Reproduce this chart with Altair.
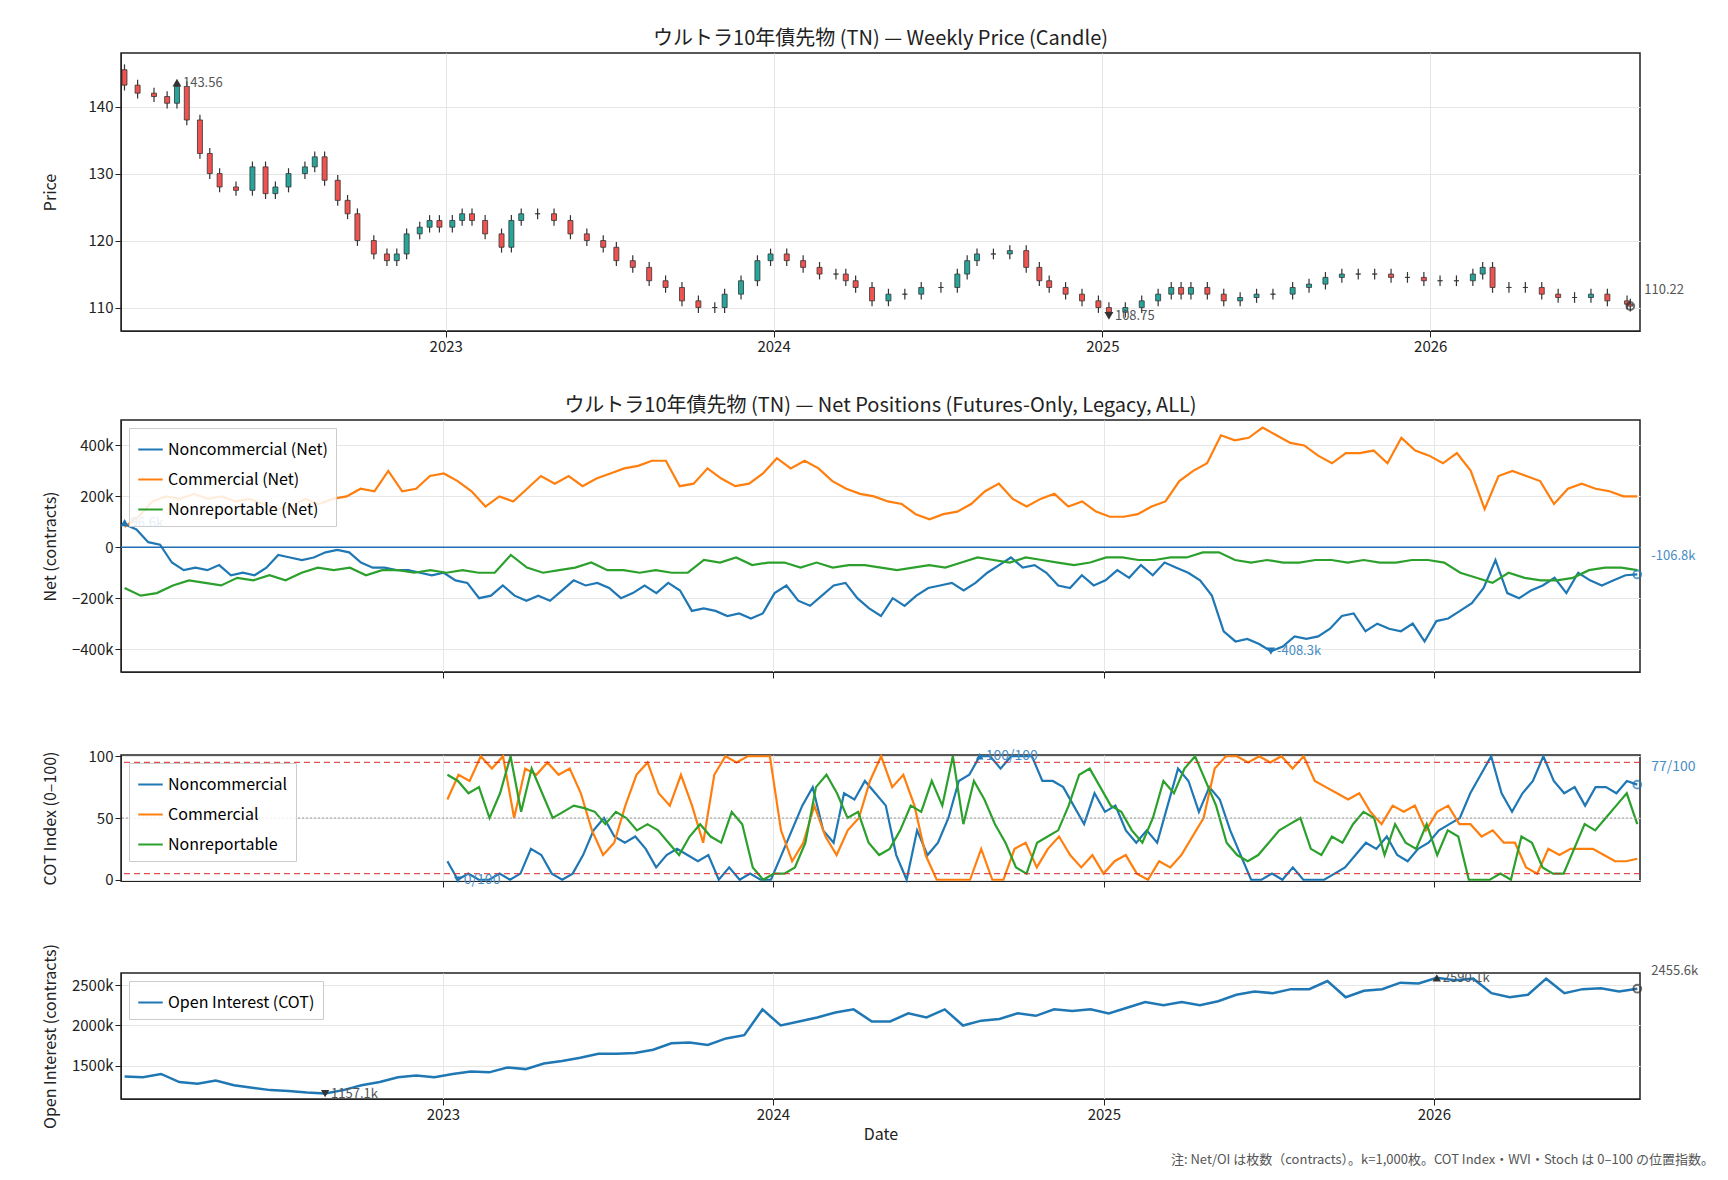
import pandas as pd
import numpy as np
import altair as alt

FONT = "Noto Sans CJK JP"

# price samples: time (decimal year) and close
price_t = [2022.02, 2022.06, 2022.11, 2022.15, 2022.18, 2022.21, 2022.25, 2022.28, 2022.31, 2022.36, 2022.41, 2022.45,
           2022.48, 2022.52, 2022.57, 2022.60, 2022.63, 2022.67, 2022.70, 2022.73, 2022.78, 2022.82, 2022.85, 2022.88,
           2022.92, 2022.95, 2022.98, 2023.02, 2023.05, 2023.08, 2023.12, 2023.17, 2023.20, 2023.23, 2023.28, 2023.33,
           2023.38, 2023.43, 2023.48, 2023.52, 2023.57, 2023.62, 2023.67, 2023.72, 2023.77, 2023.82, 2023.85, 2023.90,
           2023.95, 2023.99, 2024.04, 2024.09, 2024.14, 2024.19, 2024.22, 2024.25, 2024.30, 2024.35, 2024.40, 2024.45,
           2024.51, 2024.56, 2024.59, 2024.62, 2024.67, 2024.72, 2024.77, 2024.81, 2024.84, 2024.89, 2024.94, 2024.99,
           2025.02, 2025.07, 2025.12, 2025.17, 2025.21, 2025.24, 2025.27, 2025.32, 2025.37, 2025.42, 2025.47, 2025.52,
           2025.58, 2025.63, 2025.68, 2025.73, 2025.78, 2025.83, 2025.88, 2025.93, 2025.98, 2026.03, 2026.08, 2026.13,
           2026.16, 2026.19, 2026.24, 2026.29, 2026.34, 2026.39, 2026.44, 2026.49, 2026.54, 2026.60, 2026.61]
price_close = [143.2, 142.0, 141.5, 140.5, 143.0, 138.0, 133.0, 130.0, 128.0, 127.5, 131.0, 127.0,
               128.0, 130.0, 131.0, 132.5, 129.0, 126.0, 124.0, 120.0, 118.0, 117.0, 118.0, 121.0,
               122.0, 123.0, 122.0, 123.0, 124.0, 123.0, 121.0, 119.0, 123.0, 124.0, 124.0, 123.0,
               121.0, 120.0, 119.0, 117.0, 116.0, 114.0, 113.0, 111.0, 110.0, 110.0, 112.0, 114.0,
               117.0, 118.0, 117.0, 116.0, 115.0, 115.0, 114.0, 113.0, 111.0, 112.0, 112.0, 113.0,
               113.0, 115.0, 117.0, 118.0, 118.0, 118.5, 116.0, 114.0, 113.0, 112.0, 111.0, 110.0,
               109.3, 110.0, 111.0, 112.0, 113.0, 112.0, 113.0, 112.0, 111.0, 111.5, 112.0, 112.0,
               113.0, 113.5, 114.5, 115.0, 115.0, 115.0, 114.5, 114.5, 114.0, 114.0, 114.0, 115.0,
               116.0, 113.0, 113.0, 113.0, 112.0, 111.5, 111.5, 112.0, 111.0, 110.5, 110.22]
price_open0 = 145.5

net_noncomm = [90, 70, 20, 10, -60, -90, -80, -90, -70, -110, -100, -110, -80, -30, -40, -50, -40, -20,
               -10, -20, -60, -80, -80, -90, -90, -100, -110, -100, -130, -140, -200, -190, -150, -190,
               -210, -190, -210, -170, -130, -150, -140, -160, -200, -180, -150, -180, -140, -170, -250,
               -240, -250, -270, -260, -280, -260, -180, -150, -210, -230, -190, -150, -140, -200, -240,
               -270, -200, -230, -190, -160, -150, -140, -170, -140, -100, -70, -40, -80, -70, -100, -150,
               -160, -110, -150, -130, -90, -120, -70, -110, -60, -80, -100, -130, -190, -330, -370, -360,
               -380, -408.3, -390, -350, -360, -350, -320, -270, -260, -330, -300, -320, -330, -300, -370,
               -290, -280, -250, -220, -160, -50, -180, -200, -170, -150, -120, -180, -100, -130, -150,
               -130, -110, -106.8]
net_comm = [80, 120, 180, 200, 190, 210, 190, 200, 180, 190, 170, 150, 160, 190, 170, 190, 200, 230,
            220, 300, 220, 230, 280, 290, 260, 220, 160, 200, 180, 230, 280, 250, 280, 240, 270, 290,
            310, 320, 340, 340, 240, 250, 310, 270, 240, 250, 290, 350, 310, 340, 310, 260, 230, 210,
            200, 180, 170, 130, 110, 130, 140, 170, 220, 250, 190, 160, 190, 210, 160, 180, 140, 120,
            120, 130, 160, 180, 260, 300, 330, 440, 420, 430, 470, 440, 410, 400, 360, 330, 370, 370,
            380, 330, 430, 380, 360, 330, 370, 300, 150, 280, 300, 280, 260, 170, 230, 250, 230, 220,
            200, 200]
net_nonrep = [-160, -190, -180, -150, -130, -140, -150, -120, -130, -110, -130, -100, -80, -90, -80,
              -110, -90, -90, -100, -90, -100, -90, -100, -100, -30, -80, -100, -90, -80, -60, -90, -90,
              -100, -90, -100, -100, -50, -60, -40, -70, -60, -60, -80, -60, -80, -70, -70, -80, -90,
              -80, -70, -80, -60, -40, -50, -60, -40, -50, -60, -70, -60, -40, -40, -50, -50, -40, -40,
              -20, -20, -50, -60, -50, -60, -60, -50, -50, -60, -50, -60, -60, -50, -50, -60, -100,
              -120, -140, -100, -120, -130, -130, -120, -90, -80, -80, -90]

cot_noncomm = [15, 0, 5, 0, 0, 5, 0, 5, 25, 20, 5, 0, 5, 20, 40, 50, 35, 30, 35, 25, 10, 20, 25, 20,
               15, 20, 0, 10, 0, 5, 0, 0, 20, 40, 60, 75, 40, 30, 70, 65, 80, 70, 60, 20, 0, 40, 20,
               30, 50, 80, 85, 100, 100, 90, 100, 100, 100, 80, 80, 75, 60, 45, 70, 55, 60, 40, 30,
               40, 30, 60, 90, 80, 55, 75, 65, 40, 20, 0, 0, 5, 0, 10, 0, 0, 0, 5, 10, 20, 30, 25,
               35, 20, 15, 25, 30, 40, 45, 50, 70, 85, 100, 70, 55, 70, 80, 100, 80, 70, 75, 60, 75,
               75, 70, 80, 77]
cot_comm = [65, 85, 80, 100, 90, 100, 50, 90, 85, 95, 85, 90, 70, 40, 20, 30, 60, 85, 95, 70, 60, 85,
            60, 30, 85, 100, 95, 100, 100, 100, 40, 15, 30, 60, 35, 20, 40, 50, 80, 100, 75, 85, 60,
            20, 0, 0, 0, 0, 25, 0, 0, 25, 30, 10, 25, 35, 20, 10, 20, 5, 15, 20, 5, 0, 15, 10, 20,
            35, 50, 90, 100, 100, 95, 100, 95, 100, 90, 100, 80, 75, 70, 65, 70, 55, 45, 60, 55, 60,
            40, 55, 60, 45, 45, 35, 40, 30, 30, 10, 5, 25, 20, 25, 25, 25, 20, 15, 15, 17]
cot_nonrep = [85, 80, 70, 75, 50, 70, 100, 55, 90, 70, 50, 55, 60, 58, 55, 45, 55, 50, 40, 45, 40, 30,
              20, 35, 45, 35, 30, 55, 45, 10, 0, 5, 5, 10, 30, 75, 85, 70, 50, 55, 30, 20, 25, 40, 60,
              55, 80, 60, 100, 45, 80, 65, 45, 30, 10, 5, 30, 35, 40, 60, 85, 90, 75, 60, 55, 40, 30,
              50, 80, 70, 90, 100, 80, 60, 30, 20, 15, 20, 30, 40, 45, 50, 25, 20, 35, 30, 45, 55, 50,
              20, 45, 30, 25, 45, 20, 40, 35, 0, 0, 0, 5, 0, 35, 30, 10, 5, 5, 25, 45, 40, 50, 60, 70, 45]

oi = [1370, 1360, 1400, 1300, 1280, 1320, 1260, 1230, 1200, 1190, 1170, 1157.1, 1200, 1260, 1300, 1360,
      1380, 1360, 1400, 1430, 1420, 1480, 1460, 1530, 1560, 1600, 1650, 1650, 1660, 1700, 1780, 1790,
      1760, 1840, 1880, 2200, 2000, 2050, 2100, 2160, 2200, 2050, 2050, 2150, 2100, 2200, 2000, 2060,
      2080, 2150, 2120, 2200, 2180, 2200, 2150, 2220, 2290, 2250, 2290, 2250, 2300, 2380, 2420, 2400,
      2450, 2450, 2550, 2350, 2430, 2450, 2530, 2520, 2590.1, 2560, 2580, 2400, 2350, 2380, 2580, 2400,
      2450, 2460, 2420, 2455.6]

START, END = "2022-01-14", "2026-08-14"
COT_START = "2023-01-06"
DOMAIN = [alt.DateTime(year=2022, month=1, date=10), alt.DateTime(year=2026, month=8, date=17)]
W = 1519
LEG = dict(title=None, orient="top-left", labelFontSize=16, symbolType="stroke", symbolStrokeWidth=2,
           symbolSize=600, fillColor="rgba(255,255,255,0.85)", strokeColor="#ccc", padding=8,
           labelFont=FONT, rowPadding=8, offset=8)

def dates(n, start=START):
    return pd.date_range(start, END, periods=n)

def from_decimal(ts):
    return [pd.Timestamp(int(t), 1, 1) + pd.Timedelta(days=(t - int(t)) * 365.25) for t in ts]

# --- price candles
c = np.array(price_close)
o = np.concatenate([[price_open0], c[:-1]])
wick = 0.8
df_p = pd.DataFrame({"date": from_decimal(price_t), "open": o, "close": c,
                     "high": np.maximum(o, c) + wick, "low": np.minimum(o, c) - wick})
df_p["dir"] = np.where(df_p["close"] >= df_p["open"], "up", "down")

xax = lambda labels=True, title=None: alt.X("date:T", scale=alt.Scale(domain=DOMAIN),
    title=title, axis=alt.Axis(format="%Y", tickCount={"interval": "year", "step": 1},
                               labels=labels, labelFontSize=15, titleFontSize=16, grid=True, tickSize=6))
ybase = dict(labelFontSize=15, titleFontSize=16, minExtent=55, maxExtent=55, tickSize=6, titlePadding=8)

base = alt.Chart(df_p)
wicks = base.mark_rule(color="#333", strokeWidth=1.2).encode(
    x=xax(), y=alt.Y("low:Q", scale=alt.Scale(domain=[106.5, 148], nice=False),
                     title="Price", axis=alt.Axis(values=[110, 120, 130, 140], **ybase)),
    y2="high:Q")
bodies = base.mark_bar(size=5, stroke="#333", strokeWidth=0.8).encode(
    x="date:T", y="open:Q", y2="close:Q",
    color=alt.Color("dir:N", scale=alt.Scale(domain=["up", "down"], range=["#26a69a", "#ef5350"]), legend=None))
imin = df_p["low"].idxmin()
df_ext = pd.DataFrame({"date": [df_p.date[4], df_p.date[imin]],
                       "v": [143.56, 108.75], "shape": ["triangle-up", "triangle-down"],
                       "lab": ["143.56", "108.75"], "dy": [-16, 16]})
ext_pts = alt.Chart(df_ext).mark_point(filled=True, size=80, color="#333", opacity=1).encode(
    x="date:T", y="v:Q", shape=alt.Shape("shape:N", scale=None))
ext_txt = alt.Chart(df_ext).mark_text(align="left", dx=6, font=FONT, fontSize=13, color="#555").encode(
    x="date:T", y="v:Q", text="lab:N", yOffset="dy:Q")
df_last = df_p.tail(1).assign(lab="110.22")
last_pt = alt.Chart(df_last).mark_point(shape="circle", color="#333", size=60).encode(x="date:T", y="close:Q")
last_txt = alt.Chart(df_last).mark_text(align="left", dx=14, dy=-16, font=FONT, fontSize=13, color="#555").encode(
    x="date:T", y="close:Q", text="lab:N")
p1 = alt.layer(wicks, bodies, ext_pts, ext_txt, last_pt, last_txt).properties(
    width=W, height=278, title="ウルトラ10年債先物 (TN) — Weekly Price (Candle)")

# --- net positions
nets = [("Noncommercial (Net)", net_noncomm), ("Commercial (Net)", net_comm), ("Nonreportable (Net)", net_nonrep)]
df_n = pd.concat([pd.DataFrame({"date": dates(len(v)), "v": np.array(v) * 1000, "s": k}) for k, v in nets])
names_n = [k for k, _ in nets]
kfmt = "datum.value == 0 ? '0' : format(datum.value/1000, 'd') + 'k'"
lines_n = alt.Chart(df_n).mark_line(strokeWidth=2.2).encode(
    x=xax(labels=False),
    y=alt.Y("v:Q", title="Net (contracts)", scale=alt.Scale(domain=[-490000, 500000], nice=False),
            axis=alt.Axis(values=[-400000, -200000, 0, 200000, 400000], labelExpr=kfmt, **ybase)),
    color=alt.Color("s:N", sort=names_n, scale=alt.Scale(domain=names_n, range=["#1f77b4", "#ff7f0e", "#2ca02c"]),
                    legend=alt.Legend(**LEG)))
zero = alt.Chart(pd.DataFrame({"v": [0]})).mark_rule(color="#1f6fb4", strokeWidth=1.3).encode(y="v:Q")
nc = df_n[df_n.s == names_n[0]].reset_index(drop=True)
j = nc.v.idxmin()
df_ne = pd.DataFrame({"date": [nc.date[0], nc.date[j]], "v": [96600, nc.v[j]],
                      "shape": ["triangle-up", "triangle-down"], "lab": ["96.6k", "-408.3k"],
                      "dy": [-14, 14]})
ne_pts = alt.Chart(df_ne).mark_point(filled=True, size=70, color="#1f77b4", opacity=1).encode(
    x="date:T", y="v:Q", shape=alt.Shape("shape:N", scale=None))
ne_txt = alt.Chart(df_ne).mark_text(align="left", dx=6, font=FONT, fontSize=13, color="#4a8cc4").encode(
    x="date:T", y="v:Q", text="lab:N", yOffset="dy:Q")
df_nl = nc.tail(1).assign(lab="-106.8k")
nl_pt = alt.Chart(df_nl).mark_point(color="#1f77b4", size=60).encode(x="date:T", y="v:Q")
nl_txt = alt.Chart(df_nl).mark_text(align="left", dx=14, dy=-18, font=FONT, fontSize=13, color="#4a8cc4").encode(
    x="date:T", y="v:Q", text="lab:N")
p2 = alt.layer(lines_n, zero, ne_pts, ne_txt, nl_pt, nl_txt).properties(
    width=W, height=252, title="ウルトラ10年債先物 (TN) — Net Positions (Futures-Only, Legacy, ALL)")

# --- COT index
cots = [("Noncommercial", cot_noncomm), ("Commercial", cot_comm), ("Nonreportable", cot_nonrep)]
names_c = [k for k, _ in cots]
df_c = pd.concat([pd.DataFrame({"date": dates(len(v), COT_START), "v": v, "s": k}) for k, v in cots])
lines_c = alt.Chart(df_c).mark_line(strokeWidth=2.2).encode(
    x=xax(labels=False),
    y=alt.Y("v:Q", title="COT Index (0–100)", scale=alt.Scale(domain=[-1, 101], nice=False),
            axis=alt.Axis(values=[0, 50, 100], **ybase)),
    color=alt.Color("s:N", sort=names_c, scale=alt.Scale(domain=names_c, range=["#1f77b4", "#ff7f0e", "#2ca02c"]),
                    legend=alt.Legend(**LEG)))
refs = pd.DataFrame({"v": [95, 5, 50], "k": ["r", "r", "g"]})
red = alt.Chart(refs[refs.k == "r"]).mark_rule(color="#d62728", strokeDash=[6, 4], strokeWidth=1.2, opacity=0.8).encode(y="v:Q")
mid = alt.Chart(refs[refs.k == "g"]).mark_rule(color="#999", strokeDash=[2, 2], strokeWidth=1).encode(y="v:Q")
cn = df_c[df_c.s == "Noncommercial"].reset_index(drop=True)
k100 = cn.v.idxmax()
df_ce = pd.DataFrame({"date": [cn.date[1], cn.date[k100]], "v": [0, 100],
                      "shape": ["triangle-down", "triangle-up"], "lab": ["0/100", "100/100"], "dy": [18, -18]})
ce_pts = alt.Chart(df_ce).mark_point(filled=True, size=60, color="#1f77b4", opacity=1).encode(
    x="date:T", y="v:Q", shape=alt.Shape("shape:N", scale=None))
ce_txt = alt.Chart(df_ce).mark_text(align="left", dx=6, font=FONT, fontSize=14, color="#4a8cc4").encode(
    x="date:T", y="v:Q", text="lab:N", yOffset="dy:Q")
df_cl = cn.tail(1).assign(lab="77/100")
cl_pt = alt.Chart(df_cl).mark_point(color="#1f77b4", size=60).encode(x="date:T", y="v:Q")
cl_txt = alt.Chart(df_cl).mark_text(align="left", dx=14, dy=-18, font=FONT, fontSize=14, color="#4a8cc4").encode(
    x="date:T", y="v:Q", text="lab:N")
p3 = alt.layer(lines_c, red, mid, ce_pts, ce_txt, cl_pt, cl_txt).properties(
    width=W, height=126, title=alt.TitleParams(" ", fontSize=24))

# --- open interest
df_o = pd.DataFrame({"date": dates(len(oi)), "v": np.array(oi) * 1000, "s": "Open Interest (COT)"})
line_o = alt.Chart(df_o).mark_line(strokeWidth=2.5).encode(
    x=xax(title="Date"),
    y=alt.Y("v:Q", title="Open Interest (contracts)", scale=alt.Scale(domain=[1090000, 2650000], nice=False),
            axis=alt.Axis(values=[1500000, 2000000, 2500000], labelExpr=kfmt, **ybase)),
    color=alt.Color("s:N", scale=alt.Scale(range=["#1f77b4"]), legend=alt.Legend(**LEG)))
a, b = df_o.v.idxmin(), df_o.v.idxmax()
df_oe = pd.DataFrame({"date": [df_o.date[a], df_o.date[b]], "v": [df_o.v[a], df_o.v[b]],
                      "shape": ["triangle-down", "triangle-up"], "lab": ["1157.1k", "2590.1k"], "dy": [18, -18]})
oe_pts = alt.Chart(df_oe).mark_point(filled=True, size=70, color="#333", opacity=1).encode(
    x="date:T", y="v:Q", shape=alt.Shape("shape:N", scale=None))
oe_txt = alt.Chart(df_oe).mark_text(align="left", dx=6, font=FONT, fontSize=13, color="#555").encode(
    x="date:T", y="v:Q", text="lab:N", yOffset="dy:Q")
df_ol = df_o.tail(1).assign(lab="2455.6k")
ol_pt = alt.Chart(df_ol).mark_point(color="#333", size=60).encode(x="date:T", y="v:Q")
ol_txt = alt.Chart(df_ol).mark_text(align="left", dx=14, dy=-18, font=FONT, fontSize=13, color="#555").encode(
    x="date:T", y="v:Q", text="lab:N")
note = alt.Chart(pd.DataFrame({"t": ["注: Net/OI は枚数（contracts）。k=1,000枚。COT Index・WVI・Stoch は 0–100 の位置指数。"]})).mark_text(
    align="right", font=FONT, fontSize=13, color="#555").encode(x=alt.value(W + 74), y=alt.value(187), text="t:N")
p4 = alt.layer(line_o, oe_pts, oe_txt, ol_pt, ol_txt, note).properties(
    width=W, height=126, title=alt.TitleParams(" ", fontSize=9))

chart = alt.vconcat(p1, p2, p3, p4, spacing=40).resolve_scale(color="independent").properties(
    padding={"top": 20, "left": 33, "right": 5, "bottom": 5}).configure(
    font=FONT).configure_title(fontSize=20, fontWeight="normal", color="#222", font=FONT).configure_axis(
    labelFont=FONT, titleFont=FONT, titleFontWeight="normal", gridColor="#e6e6e6", domainColor="#222",
    tickColor="#222", labelColor="#222", titleColor="#222").configure_view(stroke="#222", strokeWidth=1.5)

chart.save("out.html", embed_options={"renderer": "svg", "actions": False})
